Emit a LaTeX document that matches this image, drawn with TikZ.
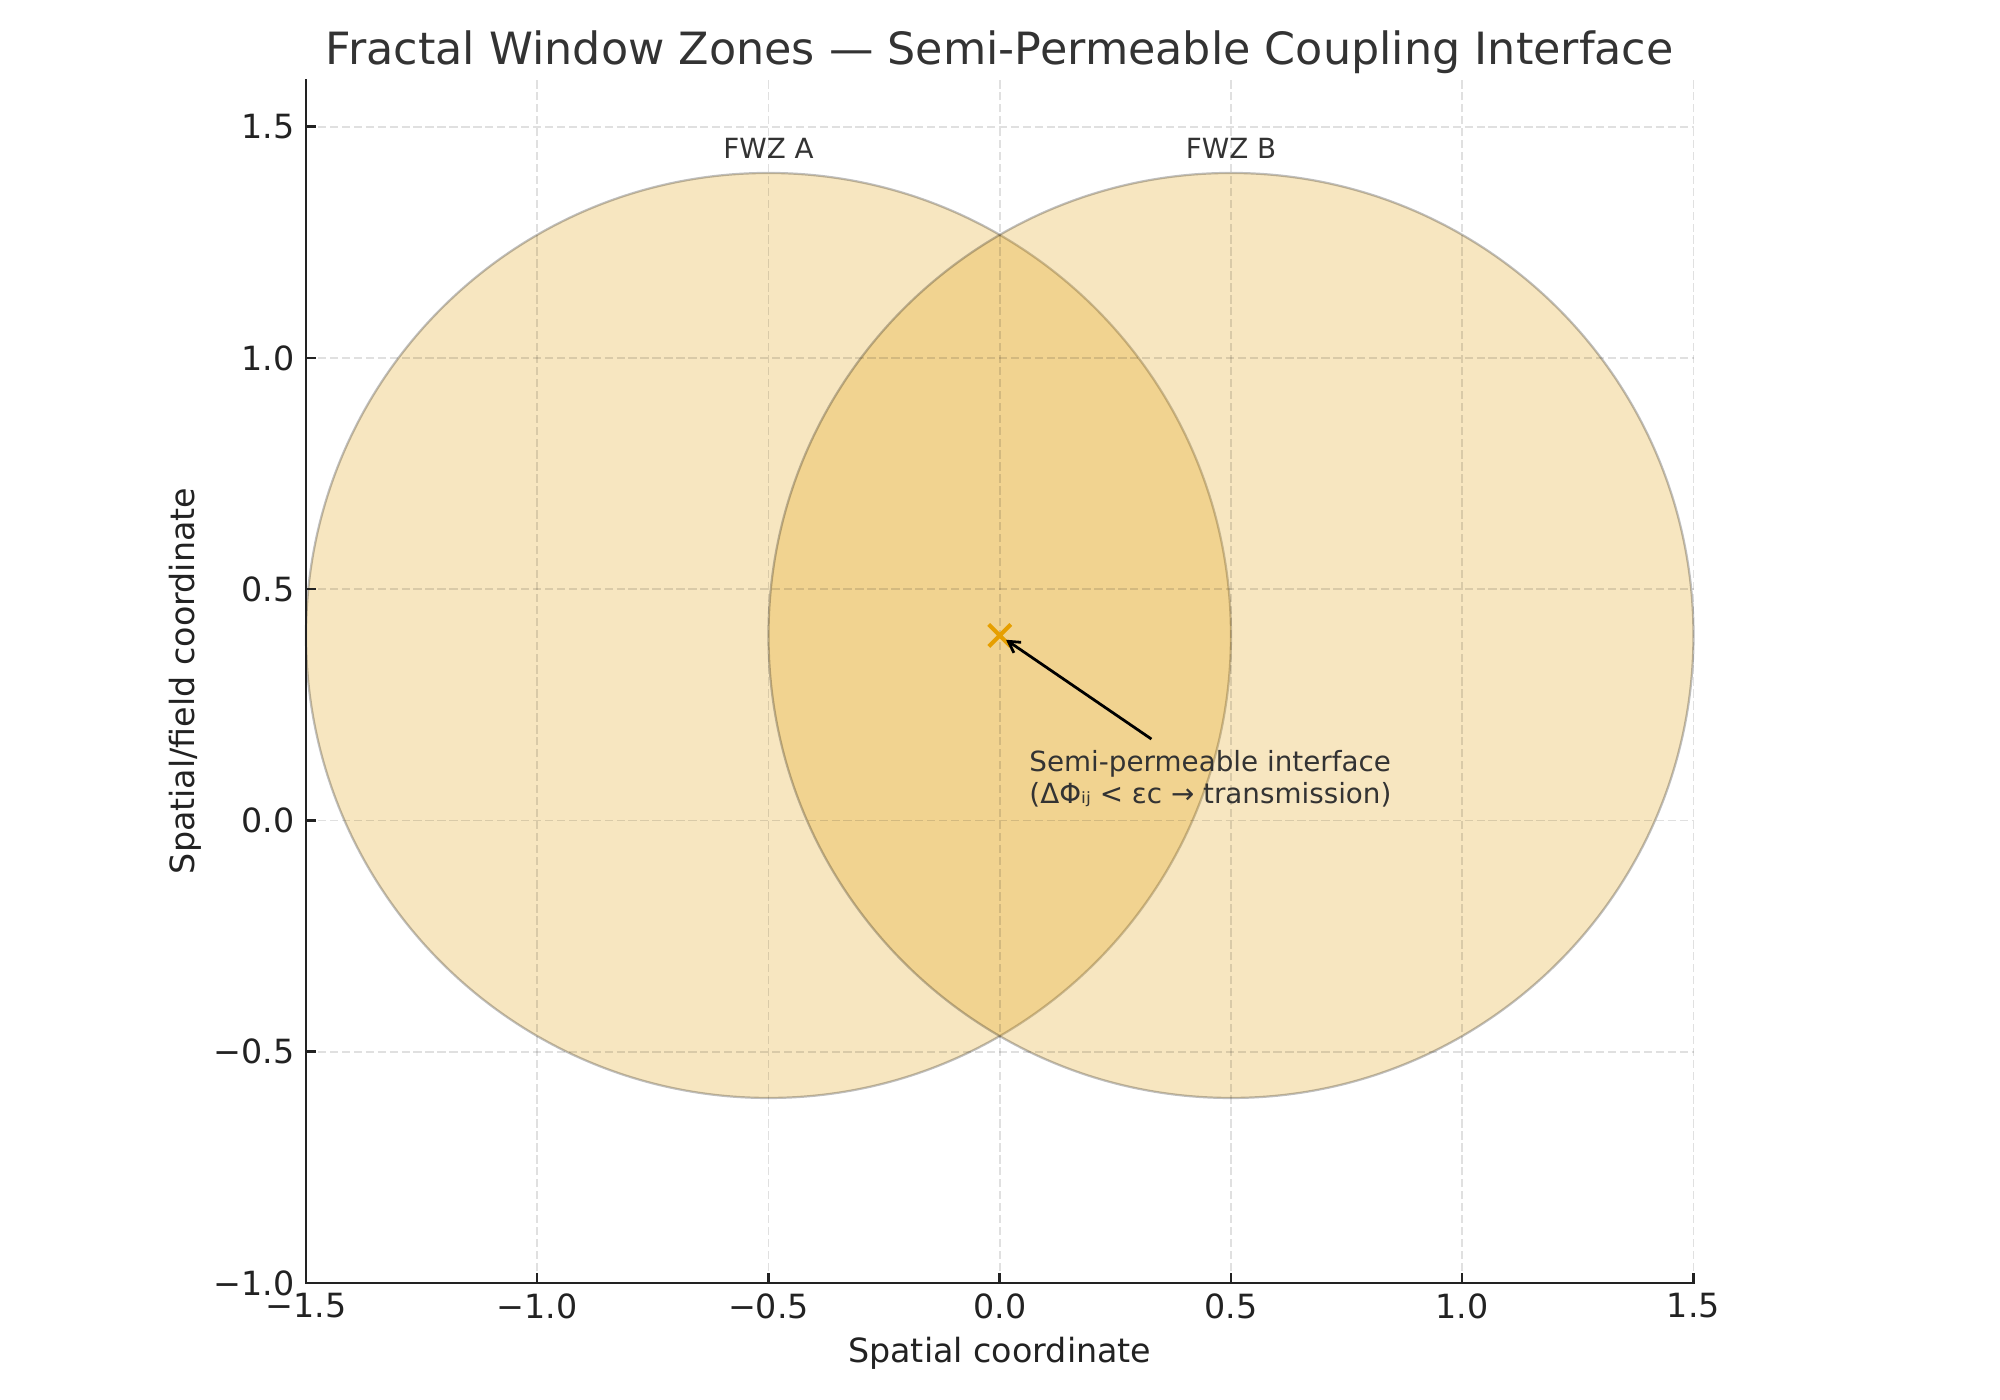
\documentclass[tikz,border=0pt]{standalone}
\usepackage{fontspec}
\setmainfont{DejaVu Sans}
\usetikzlibrary{arrows.meta}
\definecolor{fwzfill}{RGB}{223,155,3}
\definecolor{mkorange}{RGB}{230,159,0}
\definecolor{txtc}{RGB}{51,51,51}
\definecolor{axc}{RGB}{34,34,34}
\begin{document}
\begin{tikzpicture}[x=166.5pt,y=166.5pt,
  zone/.style={fill=fwzfill, fill opacity=0.25, draw=black, draw opacity=0.25, line width=0.8pt},
  gridline/.style={draw=black, draw opacity=0.12, line width=0.6pt, dash pattern=on 3pt off 1.3pt},
  spine/.style={draw=axc, line width=0.9pt, line cap=rect},
  tickmark/.style={draw=axc, line width=0.9pt},
  ticklab/.style={text=axc, font=\fontsize{12}{14}\selectfont, inner sep=0pt},
  axlab/.style={text=axc, font=\fontsize{12}{14}\selectfont, inner sep=0pt},
  titlelab/.style={text=txtc, font=\fontsize{16}{19}\selectfont, inner sep=0pt},
  zonelab/.style={text=txtc, font=\fontsize{10}{12}\selectfont, inner sep=0pt},
  anntext/.style={text=txtc, font=\fontsize{10}{11.5}\selectfont, inner sep=0pt, align=left},
  markx/.style={draw=mkorange, line width=1.44pt},
  annarrow/.style={draw=black, line width=1pt, -{Straight Barb[length=4pt,width=4.6pt]}, shorten >=2.5pt}
]
\useasboundingbox (-2.1616,-1.2530) rectangle (2.1627,1.774);

% zones
\path[zone] (-0.5,0.4) circle[radius=1];
\path[zone] (0.5,0.4) circle[radius=1];

% grid
\foreach \x in {-1,-0.5,0,0.5,1,1.5} \draw[gridline] (\x,-1) -- (\x,1.6);
\foreach \y in {-0.5,0,0.5,1,1.5} \draw[gridline] (-1.5,\y) -- (1.5,\y);

% spines
\draw[spine] (-1.5,1.6) -- (-1.5,-1) -- (1.5,-1);

% x ticks
\foreach \x/\l in {-1.5/−1.5,-1/−1.0,-0.5/−0.5,0/0.0,0.5/0.5,1/1.0,1.5/1.5} {
  \draw[tickmark] (\x,-1) -- ++(0,0.0216);
  \node[ticklab, anchor=north] (xt\x) at (\x,-1.0216) {\l};
}
% y ticks
\foreach \y/\l in {-1/−1.0,-0.5/−0.5,0/0.0,0.5/0.5,1/1.0,1.5/1.5} {
  \draw[tickmark] (-1.5,\y) -- ++(0.0216,0);
  \node[ticklab, anchor=east] (yt\y) at (-1.524,\y) {\l};
}

% axis labels and title
\node[axlab, anchor=base] (xlab) at (0,-1.173) {Spatial coordinate};
\node[axlab, rotate=90] (ylab) at (-1.7616,0.3016) {Spatial/field coordinate};
\node[titlelab, anchor=base] (title) at (0,1.6346) {Fractal Window Zones — Semi-Permeable Coupling Interface};

% zone labels
\node[zonelab, anchor=base] (fwza) at (-0.5,1.431) {FWZ A};
\node[zonelab, anchor=base] (fwzb) at (0.5,1.431) {FWZ B};

% interface marker
\node[inner sep=0pt, minimum size=0pt] (mk) at (0,0.4) {};
\draw[markx] (mk.center) +(-0.0238,-0.0238) -- +(0.0238,0.0238)
             (mk.center) +(-0.0238,0.0238) -- +(0.0238,-0.0238);

% annotation
\node[anntext, anchor=north west] (ann) at (0.063,0.1535) {Semi-permeable interface\\(ΔΦᵢⱼ < εc → transmission)};
\coordinate (tail) at (0.328,0.176);
\draw[annarrow] (tail) -- (mk);
\end{tikzpicture}
\end{document}
